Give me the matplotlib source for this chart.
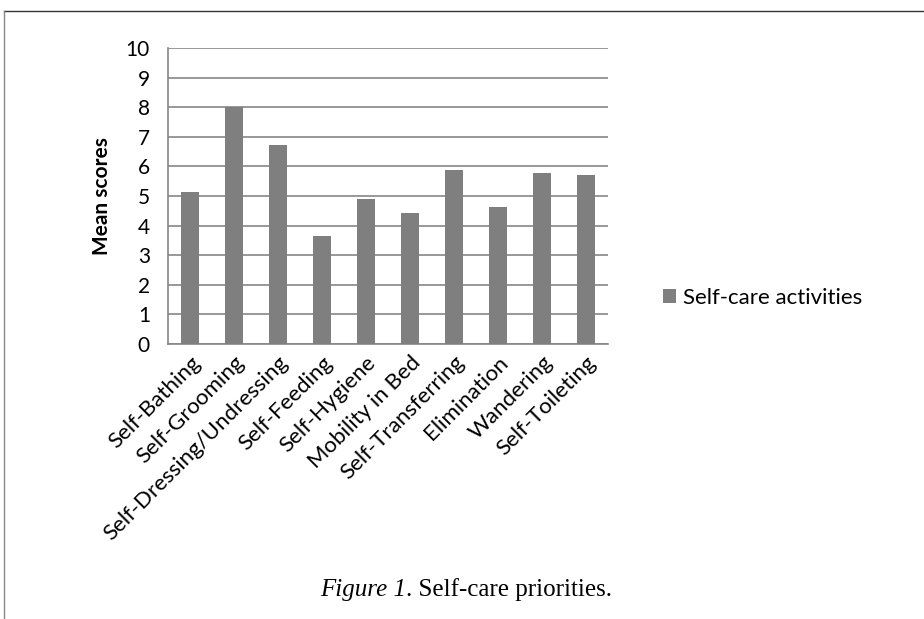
import matplotlib.pyplot as plt
from matplotlib.lines import Line2D

categories = ['Self-Bathing', 'Self-Grooming', 'Self-Dressing/Undressing', 'Self-Feeding',
              'Self-Hygiene', 'Mobility in Bed', 'Self-Transferring', 'Elimination',
              'Wandering', 'Self-Toileting']
scores = [5.13, 8.02, 6.72, 3.64, 4.89, 4.44, 5.89, 4.64, 5.79, 5.71]
yticks = list(range(0, 11))

fig = plt.figure(figsize=(9.24, 6.19), dpi=100)
ax = fig.add_axes([168/924, 1 - 344/619, 440/924, 296/619])

ax.bar(range(len(categories)), scores, width=0.39, color='#7f7f7f', zorder=3,
       label='Self-care activities')
ax.set_xlim(-0.5, len(categories) - 0.5)
ax.set_ylim(0, 10)
ax.set_yticks(yticks)
ax.yaxis.grid(True, color='#868686', linewidth=1.2, zorder=0)
ax.tick_params(length=0, labelsize=15)
ax.tick_params(axis='y', pad=13)
ax.tick_params(axis='x', pad=6, labelsize=16)
ax.set_xticks(range(len(categories)))
ax.set_xticklabels(categories, rotation=45, ha='right', rotation_mode='anchor')
for lab in ax.get_xticklabels() + ax.get_yticklabels():
    lab.set_family('Lato')
for s in ['top', 'right']:
    ax.spines[s].set_visible(False)
for s in ['left', 'bottom']:
    ax.spines[s].set_color('#868686')
    ax.spines[s].set_linewidth(1.2)

ax.set_ylabel('Mean scores', fontsize=15, fontweight='bold', family='Lato', labelpad=10)

ax.legend(loc='center left', bbox_to_anchor=(1.125, 0.155), frameon=False,
          prop={'family': 'Lato', 'size': 16}, handlelength=0.6, handleheight=0.6,
          handletextpad=0.3, borderaxespad=0, borderpad=0)

# page frame lines
fig.add_artist(Line2D([4/924, 1], [1 - 11/619, 1 - 11/619], color='#333333', linewidth=1))
fig.add_artist(Line2D([4/924, 4/924], [0, 1 - 11/619], color='#888888', linewidth=1))

# caption: italic part + regular part
cap_y = 1 - 590/619
fig.text(406/924, cap_y, 'Figure 1', ha='right', va='center', fontsize=18,
         family='Liberation Serif', style='italic')
fig.text(406/924, cap_y, '. Self-care priorities.', ha='left', va='center', fontsize=18,
         family='Liberation Serif')

fig.savefig('out.png', dpi=100)
